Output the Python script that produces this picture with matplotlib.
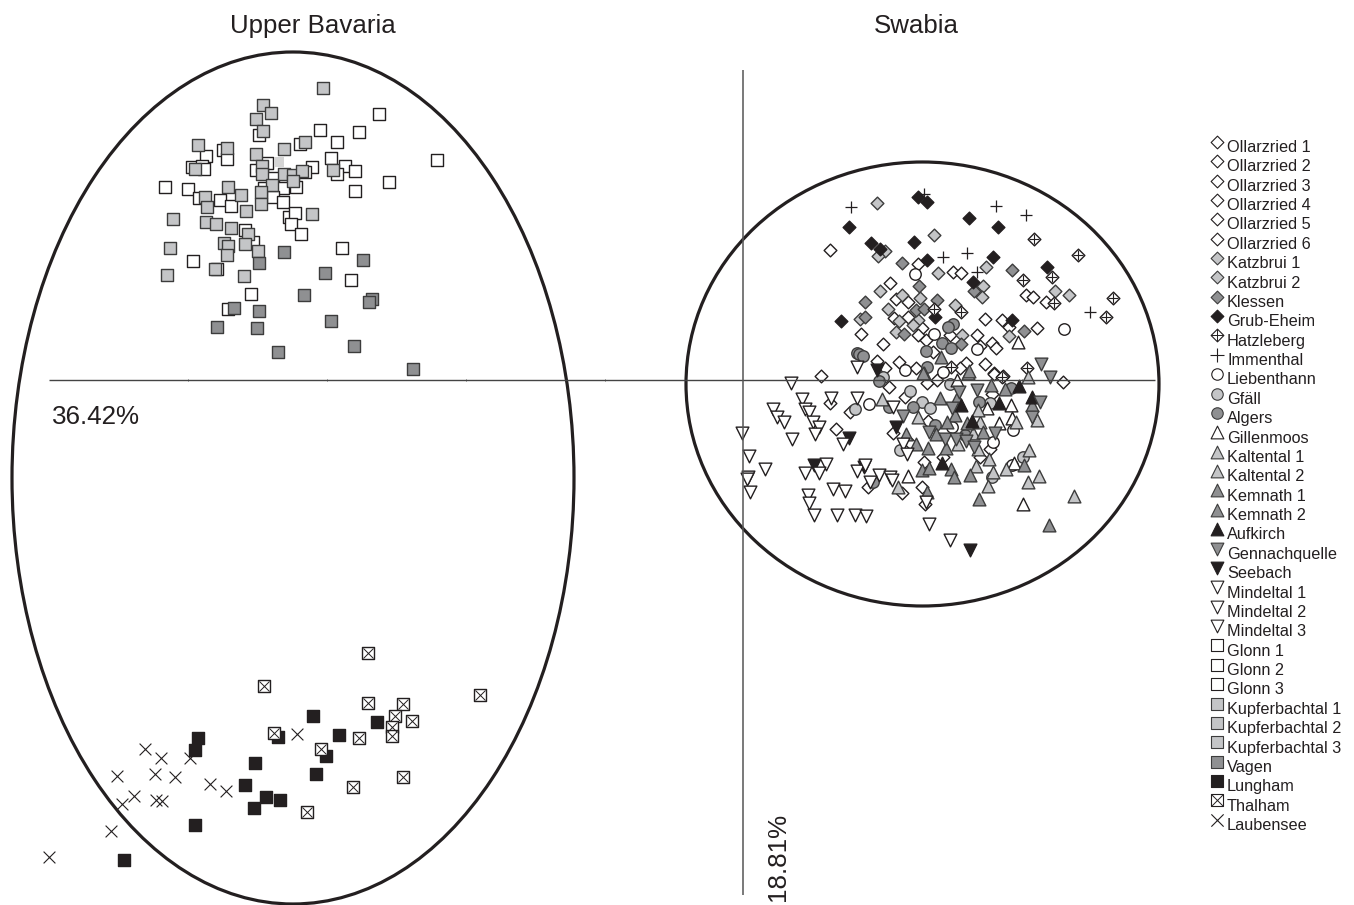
import numpy as np
import matplotlib
matplotlib.use("Agg")
import matplotlib.pyplot as plt
from matplotlib.patches import Ellipse

plt.rcParams['font.family'] = ['Liberation Sans', 'DejaVu Sans']

# point positions (picture units, y downwards)
glonn = [(379,114),(359,132),(320,130),(337,142),(300,144),(331,158),(345,166),(355,171),(337,174),(355,191),
         (389,182),(437,160),(312,167),(305,172),(296,187),(223,150),(227,159),(206,156),(192,167),(202,166),
         (204,169),(259,135),(267,163),(256,170),(273,178),(264,188),(283,188),(273,197),(283,202),(289,217),
         (295,213),(291,224),(301,234),(165,187),(188,189),(199,198),(220,200),(231,206),(245,230),(253,242),
         (342,248),(193,261),(351,280),(251,294),(217,269),(228,309)]
kupferbachtal = [(323,88),(263,105),(271,113),(256,119),(263,131),(198,145),(227,148),(256,154),(284,149),(305,142),
                 (262,166),(262,174),(284,174),(293,175),(302,171),(293,181),(333,170),(195,169),(228,187),
                 (272,185),(205,197),(241,195),(207,207),(261,192),(261,204),(246,211),(173,219),(206,222),(216,224),
                 (231,228),(248,234),(312,214),(224,243),(228,246),(245,244),(258,251),(227,255),(170,248),(215,269),
                 (244,276),(167,275)]
vagen = [(284,252),(259,263),(363,260),(325,273),(372,299),(369,302),(304,295),(234,308),(259,311),(217,327),
         (257,328),(331,321),(354,346),(278,352),(413,369)]
lungham = [(313,716),(377,722),(339,735),(278,737),(198,738),(195,750),(326,756),(255,763),(316,774),(245,785),
           (266,797),(280,800),(254,808),(195,825),(124,860)]
thalham = [(368,653),(264,686),(480,695),(368,703),(403,704),(395,716),(412,721),(359,738),(392,727),(392,736),
           (274,733),(321,749),(403,777),(353,787),(307,812)]
laubensee = [(145,749),(161,758),(190,758),(297,734),(117,776),(155,774),(175,777),(210,784),(226,791),(134,796),
             (122,804),(156,800),(162,801),(111,831),(49,857)]

ollarzried = [(830,250),(918,264),(953,272),(961,273),(890,283),(896,299),(908,302),(894,318),(908,317),(922,328),
              (985,319),(1002,320),(1009,327),(1037,328),(1026,295),(1033,297),(1046,302),(861,334),(883,344),
              (918,335),(950,335),(977,335),(926,340),(992,343),(996,348),(980,346),(899,362),(877,361),(985,364),
              (994,373),(821,376),(885,368),(966,363),(960,368),(933,352),(916,368),(889,387),(905,397),(830,403),
              (850,412),(836,429),(893,433),(1063,382),(927,383),(937,380),(992,394),(994,374),(1003,376),(990,449),
              (980,457),(924,462),(922,487),(902,493),(868,487),(925,504),(943,457),(928,421),(910,443)]
katzbrui = [(877,203),(934,235),(885,251),(878,256),(986,267),(938,273),(983,286),(982,297),(880,291),(902,295),
            (920,298),(888,309),(1055,291),(1069,295),(955,305),(899,321),(918,320),(896,332),(913,325),(962,335),
            (1009,336),(860,319)]
klessen = [(902,263),(1012,270),(974,291),(919,286),(865,302),(937,300),(916,310),(924,309),(865,317),(904,334),
           (1024,331),(961,344)]
grub_eheim = [(918,197),(927,202),(969,218),(849,227),(998,227),(871,243),(914,242),(880,249),(927,260),(993,257),
              (1047,267),(973,282),(841,321),(935,317),(1012,320)]
hatzleberg = [(1034,239),(1078,255),(1023,280),(1052,277),(1113,298),(1054,303),(1106,317),(934,309),(961,312),
              (951,367),(1027,368),(1002,377)]
immenthal = [(924,194),(851,207),(996,206),(1026,215),(943,257),(967,253),(977,272),(1090,312)]
liebenthann = [(915,274),(1064,329),(934,334),(977,349),(905,370),(943,372),(869,404),(1013,430),(993,442),
               (1012,465),(952,427)]
gfaell = [(855,409),(910,391),(922,402),(930,408),(900,450),(950,384),(990,403),(992,477),(1023,457),(883,377)]
algers = [(879,381),(889,407),(913,407),(935,425),(979,402),(1011,388),(873,482),(965,435),(857,353),(859,354),
          (863,356),(942,343),(951,348),(926,351),(953,324),(948,327),(927,367)]
gillenmoos = [(987,408),(1011,405),(999,423),(1012,418),(1014,463),(908,476),(1023,504),(957,380),(1018,342)]
kaltental = [(882,399),(918,417),(1028,377),(968,373),(924,373),(1037,420),(1016,422),(978,449),(958,444),(989,459),
             (976,466),(993,472),(1006,469),(1029,450),(1039,476),(1028,482),(988,486),(1074,496),(980,422),(898,487),
             (978,410),(973,433)]
kemnath = [(991,385),(1005,389),(940,398),(955,415),(947,422),(967,423),(983,432),(906,434),(916,444),(928,448),
           (946,448),(922,470),(929,468),(951,469),(954,477),(970,475),(1024,465),(979,499),(1049,525),(927,492),
           (1032,405),(941,357),(923,373),(969,371),(957,398),(936,434)]
aufkirch = [(1019,386),(1032,397),(999,403),(961,405),(972,421),(942,463)]
gennachquelle = [(1041,364),(1050,377),(959,392),(977,390),(1040,402),(903,416),(929,432),(945,439),(956,439),
                 (966,441),(995,433),(1032,417),(952,408),(974,447)]
seebach = [(814,465),(849,438),(864,467),(896,427),(970,550),(877,370)]
mindeltal = [(791,383),(802,399),(773,409),(777,417),(831,398),(857,398),(805,409),(809,412),(813,422),(819,427),
             (784,422),(742,433),(815,434),(792,439),(843,444),(749,456),(765,469),(748,477),(747,479),(750,492),
             (805,473),(826,464),(819,473),(857,471),(865,465),(879,475),(890,477),(892,480),(870,482),(833,489),
             (845,491),(808,495),(809,503),(814,515),(837,515),(855,515),(866,516),(929,524),(950,540),(893,407),
             (903,444),(907,454),(926,502),(857,367)]

legend_labels = ["Ollarzried 1","Ollarzried 2","Ollarzried 3","Ollarzried 4","Ollarzried 5","Ollarzried 6",
                 "Katzbrui 1","Katzbrui 2","Klessen","Grub-Eheim","Hatzleberg","Immenthal","Liebenthann",
                 "Gfäll","Algers","Gillenmoos","Kaltental 1","Kaltental 2","Kemnath 1","Kemnath 2","Aufkirch",
                 "Gennachquelle","Seebach","Mindeltal 1","Mindeltal 2","Mindeltal 3","Glonn 1","Glonn 2","Glonn 3",
                 "Kupferbachtal 1","Kupferbachtal 2","Kupferbachtal 3","Vagen","Lungham","Thalham","Laubensee"]

INK = '#231f20'
LIGHT = '#c4c5c7'
MID = '#8f9092'

# marker, face, edge
diamond_w = dict(marker='D', facecolor='white', edgecolor=INK)
diamond_l = dict(marker='D', facecolor=LIGHT, edgecolor='#3c3c3c')
diamond_m = dict(marker='D', facecolor=MID, edgecolor='#3c3c3c')
diamond_k = dict(marker='D', facecolor=INK, edgecolor=INK)
circle_w = dict(marker='o', facecolor='white', edgecolor=INK)
circle_l = dict(marker='o', facecolor=LIGHT, edgecolor='#3c3c3c')
circle_m = dict(marker='o', facecolor=MID, edgecolor='#3c3c3c')
up_w = dict(marker='^', facecolor='white', edgecolor=INK)
up_l = dict(marker='^', facecolor=LIGHT, edgecolor='#3c3c3c')
up_m = dict(marker='^', facecolor=MID, edgecolor='#3c3c3c')
up_k = dict(marker='^', facecolor=INK, edgecolor=INK)
down_w = dict(marker='v', facecolor='white', edgecolor=INK)
down_m = dict(marker='v', facecolor=MID, edgecolor='#3c3c3c')
down_k = dict(marker='v', facecolor=INK, edgecolor=INK)
square_w = dict(marker='s', facecolor='white', edgecolor=INK)
square_l = dict(marker='s', facecolor=LIGHT, edgecolor='#3c3c3c')
square_m = dict(marker='s', facecolor=MID, edgecolor='#3c3c3c')
square_k = dict(marker='s', facecolor=INK, edgecolor=INK)

SIZES = {'D': 42, 'o': 68, '^': 84, 'v': 84, 's': 72}


def pts(ax, data, style, lw=1.0):
    x, y = zip(*data)
    return ax.scatter(x, y, s=SIZES[style['marker']], linewidths=lw, zorder=3, **style)


fig = plt.figure(figsize=(13.54, 9.05), dpi=100)
ax = fig.add_axes([0, 0, 1, 1])
ax.set_xlim(0, 1354)
ax.set_ylim(905, 0)
ax.axis('off')

# axes of the ordination, they run over the points
ax.hlines(380, 49, 1155, color='#444444', lw=1.0, zorder=4)
ax.vlines(743, 70, 895, color='#555555', lw=1.1, zorder=4)
ax.vlines([188, 327, 466, 605, 883, 1022], 379, 381.5, color='#444444', lw=0.6, zorder=4)

ax.add_patch(Ellipse((293, 478), 562, 852, fill=False, ec=INK, lw=2.3, zorder=2))
ax.add_patch(Ellipse((922.5, 384), 473, 444, fill=False, ec=INK, lw=2.3, zorder=2))

pts(ax, ollarzried, diamond_w)
pts(ax, katzbrui, diamond_l)
pts(ax, klessen, diamond_m)
pts(ax, grub_eheim, diamond_k)
pts(ax, hatzleberg, diamond_w)
x, y = zip(*hatzleberg)
ax.scatter(x, y, s=60, marker='+', c=INK, linewidths=0.8, zorder=3)
x, y = zip(*immenthal)
ax.scatter(x, y, s=78, marker='+', c=INK, linewidths=0.9, zorder=3)
pts(ax, liebenthann, circle_w)
pts(ax, gfaell, circle_l)
pts(ax, algers, circle_m)
pts(ax, gillenmoos, up_w)
pts(ax, kaltental, up_l)
pts(ax, kemnath, up_m)
pts(ax, aufkirch, up_k)
pts(ax, gennachquelle, down_m)
pts(ax, seebach, down_k)
pts(ax, mindeltal, down_w)
pts(ax, glonn, square_w)
pts(ax, kupferbachtal, square_l)
ax.scatter([279], [162], s=62, marker='s', c='#d4d4d4', linewidths=0, zorder=3)
pts(ax, vagen, square_m)
pts(ax, lungham, square_k)
pts(ax, thalham, square_w)
x, y = zip(*thalham)
ax.scatter(x, y, s=52, marker='x', c=INK, linewidths=0.7, zorder=3)
x, y = zip(*laubensee)
ax.scatter(x, y, s=72, marker='x', c=INK, linewidths=0.8, zorder=3)

ax.text(313, 26, "Upper Bavaria", fontsize=18.6, color=INK, ha='center', va='center')
ax.text(916, 26, "Swabia", fontsize=18.6, color=INK, ha='center', va='center')
ax.text(52, 417, "36.42%", fontsize=18.7, color=INK, ha='left', va='center')
ax.text(778, 901, "18.81%", fontsize=18.7, color=INK, rotation=90, ha='center', va='bottom')

# legend, one row for every sampling site
legend_styles = [diamond_w]*6 + [diamond_l]*2 + [diamond_m, diamond_k, diamond_w, None, circle_w, circle_l, circle_m,
                 up_w, up_l, up_l, up_m, up_m, up_k, down_m, down_k, down_w, down_w, down_w,
                 square_w, square_w, square_w, square_l, square_l, square_l, square_m, square_k, square_w, None]
handles = []
for lab, st in zip(legend_labels, legend_styles):
    if lab == "Immenthal":
        h = ax.scatter([], [], s=90, marker='+', c=INK, linewidths=0.8)
    elif lab == "Laubensee":
        h = ax.scatter([], [], s=78, marker='x', c=INK, linewidths=0.8)
    else:
        h = ax.scatter([], [], s=SIZES[st['marker']], linewidths=0.8, **st)
    if lab == "Hatzleberg":
        h = (h, ax.scatter([], [], s=70, marker='+', c=INK, linewidths=0.7))
    if lab == "Thalham":
        h = (h, ax.scatter([], [], s=60, marker='x', c=INK, linewidths=0.7))
    handles.append(h)

ax.legend(handles, legend_labels, loc='upper left', bbox_to_anchor=(1210/1354, 1-140/905),
          frameon=False, fontsize=11.7, labelcolor=INK, borderpad=0, borderaxespad=0,
          labelspacing=0.269, handlelength=0.9, handletextpad=0.15,
          scatterpoints=1, scatteryoffsets=[0.9])

fig.savefig('out.png', dpi=100)
